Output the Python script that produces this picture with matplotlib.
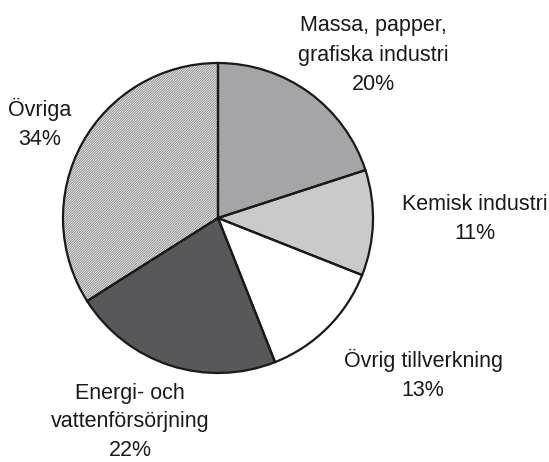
import matplotlib

matplotlib.use("Agg")
import matplotlib.pyplot as plt

# andelar i procent, medurs från kl. 12
labels = ["Massa, papper,\ngrafiska industri", "Kemisk industri", "Övrig tillverkning",
          "Energi- och\nvattenförsörjning", "Övriga"]
shares = [20, 11, 13, 22, 34]
colors = ["#a5a5a7", "#cacaca", "#ffffff", "#58585a", "#ffffff"]
hatches = [None, None, None, None, "/" * 14]

# etikettplacering i pixlar (x, y från överkant)
label_pos = [(373, 55), (475, 219), (423, 375), (130, 422), (40, 124)]

W, H = 549, 462
plt.rcParams["font.family"] = ["Liberation Sans", "DejaVu Sans"]
plt.rcParams["hatch.linewidth"] = 0.7

fig = plt.figure(figsize=(W / 100, H / 100), dpi=100)
ax = fig.add_axes([0, 0, 1, 1])

cx, cy, r = 218, H - 218, 155

# fyllning (hatch-färg via edgecolor)
wedges, _ = ax.pie(shares, colors=colors, startangle=90, counterclock=False,
                   center=(cx, cy), radius=r, frame=True,
                   wedgeprops=dict(linewidth=0, edgecolor="#8a8a8a"))
for w, h in zip(wedges, hatches):
    if h:
        w.set_hatch(h)
# konturer
ax.pie(shares, colors=["none"] * len(shares), startangle=90, counterclock=False,
       center=(cx, cy), radius=r, frame=True,
       wedgeprops=dict(linewidth=1.6, edgecolor="#1a1a1a"))
ax.set_xlim(0, W)
ax.set_ylim(0, H)
ax.set_aspect("equal")
ax.axis("off")

for lab, s, (x, y) in zip(labels, shares, label_pos):
    ax.text(x, H - y, f"{lab}\n{s}%", ha="center", va="center", fontsize=15.5,
            linespacing=1.5, color="#1a1a1a")

fig.savefig("out.png", dpi=100)
